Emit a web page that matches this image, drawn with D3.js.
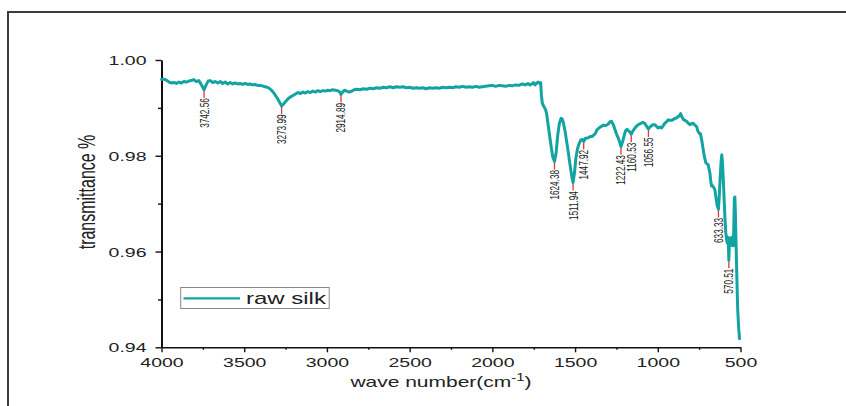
<!DOCTYPE html>
<html>
<head>
<meta charset="utf-8">
<script src="https://cdn.jsdelivr.net/npm/d3@7"></script>
<style>
  html, body { margin: 0; padding: 0; background: #ffffff; }
  svg { display: block; font-family: "Liberation Sans", Arial, sans-serif; }
</style>
</head>
<body>
<svg id="chart" width="846" height="406"></svg>
<script>
// ---------- DATA ----------
const waveNumber = [
  4000,3985,3970,3955,3940,3925,3910,3895,3880,3865,3850,3835,3820,3805,3790,3775,3760,3742.56,3730,3718,
  3705,3690,3675,3660,3645,3630,3615,3600,3585,3570,3555,3540,3525,3510,3495,3480,3465,3450,3435,3420,
  3405,3390,3375,3360,3345,3330,3315,3300,3285,3273.99,3262,3250,3235,3220,3205,3190,3175,3160,3145,3130,
  3115,3100,3085,3070,3055,3040,3025,3010,2995,2980,2965,2950,2935,2922,2914.89,2905,2893,2880,2865,2850,
  2835,2820,2800,2780,2760,2740,2720,2700,2680,2660,2640,2620,2600,2580,2560,2540,2520,2500,2480,2460,
  2440,2420,2400,2380,2360,2340,2320,2300,2280,2260,2240,2220,2200,2180,2160,2140,2120,2100,2080,2060,
  2040,2020,2000,1980,1960,1940,1920,1900,1880,1860,1840,1820,1800,1785,1772,1760,1752,1742,1732,1722,
  1714,1708,1703,1698,1692,1684,1678,1672,1665,1655,1645,1635,1624.38,1615,1605,1595,1585,1578,1570,1560,
  1550,1540,1530,1520,1511.94,1503,1495,1485,1475,1465,1455,1447.92,1438,1428,1418,1408,1398,1388,1378,1368,
  1358,1348,1338,1328,1318,1308,1298,1288,1280,1270,1260,1250,1240,1230,1222.43,1212,1203,1195,1186,1176,
  1168,1160.53,1150,1140,1128,1118,1105,1090,1080,1070,1063,1056.55,1048,1037,1027,1017,1007,997,987,977,
  967,957,947,937,927,916,906,896,886,876,868,862,855,846,836,826,816,806,796,786,
  776,765,758,750,742,733,725,717,709,702,695,690,685,680,675,670,665,660,655,648,
  641,633.33,628,622,617,613,609,604,599,594,589,584,580,576,573,570.51,567,563,559,555,
  551,547,543,540,537,534,531,527,522,517,511,506
];
const transmittance = [
  0.9960,0.9960,0.9958,0.9954,0.9952,0.9953,0.9951,0.9954,0.9952,0.9955,0.9954,0.9956,0.9957,0.9959,0.9955,0.9957,0.9949,0.9938,0.9948,0.9956,
  0.9957,0.9953,0.9955,0.9952,0.9955,0.9951,0.9954,0.9950,0.9953,0.9950,0.9952,0.9950,0.9951,0.9949,0.9951,0.9949,0.9950,0.9948,0.9949,0.9947,
  0.9947,0.9946,0.9944,0.9943,0.9940,0.9935,0.9928,0.9920,0.9911,0.9904,0.9908,0.9913,0.9919,0.9923,0.9926,0.9929,0.9932,0.9930,0.9933,0.9931,
  0.9934,0.9932,0.9935,0.9933,0.9936,0.9934,0.9936,0.9935,0.9937,0.9936,0.9938,0.9937,0.9936,0.9933,0.9928,0.9933,0.9937,0.9935,0.9933,0.9935,
  0.9938,0.9939,0.9938,0.9940,0.9939,0.9941,0.9940,0.9942,0.9941,0.9943,0.9942,0.9944,0.9942,0.9944,0.9943,0.9944,0.9942,0.9943,0.9941,0.9942,
  0.9941,0.9942,0.9940,0.9942,0.9941,0.9942,0.9941,0.9943,0.9942,0.9943,0.9942,0.9944,0.9943,0.9945,0.9943,0.9944,0.9943,0.9945,0.9943,0.9944,
  0.9945,0.9946,0.9947,0.9945,0.9947,0.9946,0.9945,0.9947,0.9946,0.9948,0.9947,0.9950,0.9948,0.9951,0.9948,0.9950,0.9953,0.9948,0.9952,0.9954,
  0.9951,0.9953,0.9925,0.9910,0.9905,0.9900,0.9896,0.9888,0.9870,0.9845,0.9820,0.9798,0.9788,0.9805,0.9842,0.9868,0.9878,0.9877,0.9868,0.9850,
  0.9828,0.9805,0.9780,0.9757,0.9744,0.9766,0.9795,0.9815,0.9826,0.9833,0.9834,0.9830,0.9836,0.9837,0.9838,0.9840,0.9840,0.9843,0.9846,0.9854,
  0.9857,0.9860,0.9862,0.9864,0.9863,0.9864,0.9867,0.9871,0.9872,0.9866,0.9856,0.9846,0.9838,0.9828,0.9819,0.9830,0.9842,0.9852,0.9855,0.9852,
  0.9849,0.9845,0.9852,0.9857,0.9862,0.9865,0.9867,0.9870,0.9868,0.9863,0.9859,0.9856,0.9860,0.9863,0.9865,0.9865,0.9861,0.9858,0.9860,0.9858,
  0.9863,0.9868,0.9871,0.9875,0.9874,0.9874,0.9876,0.9878,0.9879,0.9882,0.9884,0.9888,0.9882,0.9876,0.9874,0.9872,0.9868,0.9865,0.9867,0.9868,
  0.9864,0.9861,0.9852,0.9847,0.9846,0.9830,0.9812,0.9796,0.9785,0.9783,0.9781,0.9772,0.9764,0.9748,0.9737,0.9738,0.9735,0.9733,0.9729,0.9712,
  0.9696,0.9688,0.9718,0.9760,0.9790,0.9802,0.9785,0.9750,0.9710,0.9670,0.9640,0.9625,0.9618,0.9630,0.9615,0.9582,0.9622,0.9612,0.9628,0.9613,
  0.9630,0.9618,0.9612,0.9660,0.9712,0.9714,0.9680,0.9620,0.9545,0.9480,0.9440,0.9418
];
const peakWaves = [3742.56, 3273.99, 2914.89, 1624.38, 1511.94, 1447.92, 1222.43, 1160.53, 1056.55, 633.33, 570.51];
const peakLabels = ["3742.56","3273.99","2914.89","1624.38","1511.94","1447.92","1222.43","1160.53","1056.55","633.33","570.51"];
const xTicks = [4000, 3500, 3000, 2500, 2000, 1500, 1000, 500];
const xMinorTicks = [3750, 3250, 2750, 2250, 1750, 1250, 750];
const yTicks = [0.94, 0.96, 0.98, 1.00];
const yMinorTicks = [0.95, 0.97, 0.99];
const seriesName = "raw silk";
const xTitle = "wave number(cm";
const yTitle = "transmittance %";

// ---------- LAYOUT ----------
const svg = d3.select("#chart");
const SX = 1.5; // horizontal text stretch seen in the reference
const lineColor = "#14a3a3";
const textColor = "#222";

const x = d3.scaleLinear().domain([4000, 500]).range([161.5, 740.5]);
const y = d3.scaleLinear().domain([0.94, 1.00]).range([347.3, 60]);

// outer frame
svg.append("rect").attr("x", 8).attr("y", 12).attr("width", 900).attr("height", 500)
  .attr("fill", "none").attr("stroke", "#3c3c3c").attr("stroke-width", 2);

// ---------- AXES ----------
const gx = svg.append("g").attr("transform", `translate(0,${y.range()[0]})`);
gx.call(d3.axisBottom(x).tickValues(xTicks).tickFormat(d3.format("d")).tickSize(5).tickSizeOuter(0));
gx.select(".domain").attr("stroke", "#111").attr("stroke-width", 1.4);
gx.selectAll(".tick line").attr("stroke", "#111").attr("stroke-width", 1.4);
gx.selectAll(".tick text").attr("y", 19.5).attr("dy", 0).attr("font-size", 13)
  .attr("fill", textColor).attr("transform", `scale(${SX},1)`);
const gxm = svg.append("g").attr("transform", `translate(0,${y.range()[0]})`);
gxm.call(d3.axisBottom(x).tickValues(xMinorTicks).tickFormat("").tickSize(2.5).tickSizeOuter(0));
gxm.select(".domain").remove();
gxm.selectAll(".tick line").attr("stroke", "#111").attr("stroke-width", 1.4);

const gy = svg.append("g").attr("transform", `translate(${x.range()[0]},0)`);
gy.call(d3.axisLeft(y).tickValues(yTicks).tickFormat(d3.format(".2f")).tickSize(6).tickSizeOuter(0));
gy.select(".domain").attr("stroke", "#111").attr("stroke-width", 2);
gy.selectAll(".tick line").attr("stroke", "#111").attr("stroke-width", 1.4);
gy.selectAll(".tick text").attr("x", -10).attr("dy", "0.35em").attr("font-size", 13)
  .attr("fill", textColor).attr("transform", `scale(${SX},1)`);
const gym = svg.append("g").attr("transform", `translate(${x.range()[0]},0)`);
gym.call(d3.axisLeft(y).tickValues(yMinorTicks).tickFormat("").tickSize(3.5).tickSizeOuter(0));
gym.select(".domain").remove();
gym.selectAll(".tick line").attr("stroke", "#111").attr("stroke-width", 1.4);

// axis titles
const xt = svg.append("text").attr("transform", `translate(441,386.5) scale(${SX},1)`)
  .attr("text-anchor", "middle").attr("font-size", 14).attr("fill", textColor);
xt.append("tspan").text(xTitle);
xt.append("tspan").attr("dy", -6).attr("font-size", 10).text("-1");
xt.append("tspan").attr("dy", 6).text(")");

svg.append("text").attr("transform", `translate(95,192) scale(${SX},1) rotate(-90)`)
  .attr("text-anchor", "middle").attr("font-size", 16).attr("fill", textColor).text(yTitle);

// ---------- SERIES ----------
const data = waveNumber.map((w, i) => ({ w, t: transmittance[i] }));
svg.append("path").datum(data)
  .attr("fill", "none").attr("stroke", lineColor).attr("stroke-width", 3)
  .attr("stroke-linejoin", "round").attr("stroke-linecap", "round")
  .attr("d", d3.line().x(d => x(d.w)).y(d => y(d.t)));

// ---------- PEAK LABELS ----------
const peaks = peakWaves.map((w, i) => ({ w, t: transmittance[waveNumber.indexOf(w)], label: peakLabels[i] }));
const pg = svg.append("g");
pg.selectAll("line").data(peaks).join("line")
  .attr("x1", d => x(d.w)).attr("x2", d => x(d.w))
  .attr("y1", d => y(d.t) + 1).attr("y2", d => y(d.t) + 8)
  .attr("stroke", "#d83a3a").attr("stroke-width", 1.3);
pg.selectAll("text").data(peaks).join("text")
  .attr("transform", d => `translate(${x(d.w)},${y(d.t) + 8.5}) scale(${SX},1) rotate(-90)`)
  .attr("text-anchor", "end").attr("dy", "0.36em")
  .attr("font-size", 8.2).attr("fill", textColor).text(d => d.label);

// ---------- LEGEND ----------
const lg = svg.append("g");
lg.append("rect").attr("x", 180.7).attr("y", 287.5).attr("width", 148.5).attr("height", 21)
  .attr("fill", "#fff").attr("stroke", "#888").attr("stroke-width", 1);
lg.append("line").attr("x1", 183.5).attr("x2", 240).attr("y1", 298.3).attr("y2", 298.3)
  .attr("stroke", lineColor).attr("stroke-width", 2.2);
lg.append("text").attr("transform", `translate(246,303.5) scale(${SX},1)`)
  .attr("font-size", 16).attr("fill", textColor).text(seriesName);
</script>
</body>
</html>
